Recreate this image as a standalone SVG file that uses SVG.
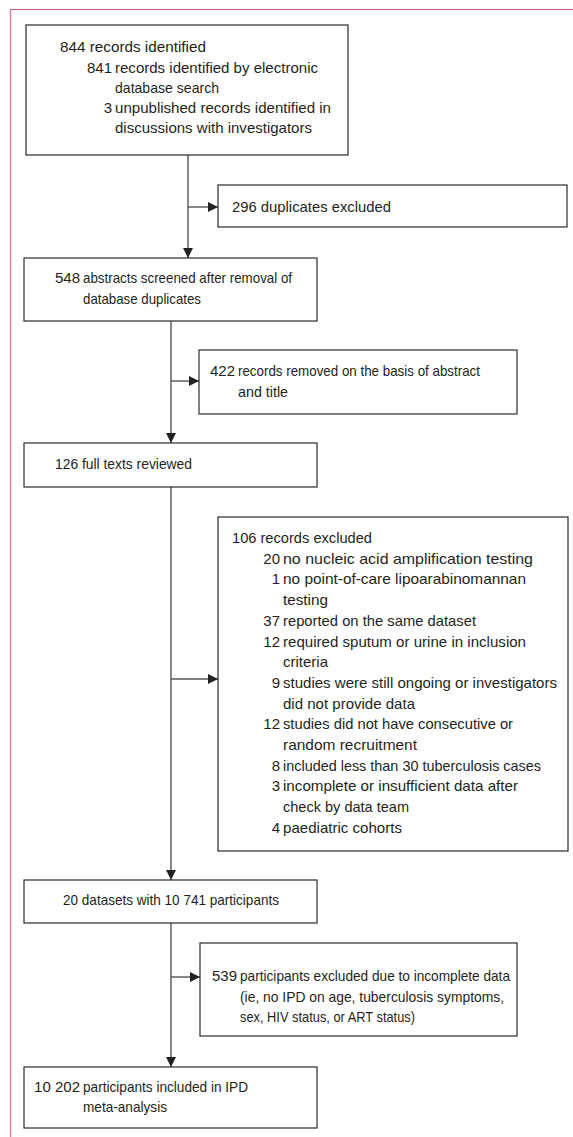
<svg xmlns="http://www.w3.org/2000/svg" width="573" height="1137" viewBox="0 0 573 1137">
<defs>
<style>
.box{fill:#fff;stroke:#2b2b2b;stroke-width:1.2}
.ln{fill:none;stroke:#555;stroke-width:1.4}
text{font-family:"Liberation Sans",Arial,sans-serif;font-size:15px;fill:#231f20}
.r{text-anchor:end}
</style>
<marker id="ah" viewBox="0 0 10 10" refX="10" refY="5" markerWidth="10" markerHeight="10" markerUnits="userSpaceOnUse" orient="auto">
<path d="M0,0 L10,5 L0,10 Z" fill="#222"/>
</marker>
</defs>
<rect width="573" height="1137" fill="#fff"/>
<g id="frame">
<line x1="10" y1="9.5" x2="573" y2="9.5" stroke="#c8546f" stroke-width="1.2"/>
<line x1="10.5" y1="9" x2="10.5" y2="1137" stroke="#e07a9c" stroke-width="1.4"/>
</g>
<g id="connectors">
<line class="ln" x1="188" y1="155" x2="188" y2="258" marker-end="url(#ah)"/>
<line class="ln" x1="188" y1="207" x2="218" y2="207" marker-end="url(#ah)"/>
<line class="ln" x1="171" y1="321" x2="171" y2="443" marker-end="url(#ah)"/>
<line class="ln" x1="171" y1="381" x2="199" y2="381" marker-end="url(#ah)"/>
<line class="ln" x1="171" y1="487" x2="171" y2="880" marker-end="url(#ah)"/>
<line class="ln" x1="171" y1="679" x2="218" y2="679" marker-end="url(#ah)"/>
<line class="ln" x1="171" y1="923" x2="171" y2="1067" marker-end="url(#ah)"/>
<line class="ln" x1="171" y1="977" x2="200" y2="977" marker-end="url(#ah)"/>
</g>
<g id="n1">
<rect class="box" x="26" y="25" width="322" height="130"/>
<text x="60" y="52" textLength="146" lengthAdjust="spacingAndGlyphs">844 records identified</text>
<text class="r" x="112" y="73">841</text><text x="115" y="73" textLength="203" lengthAdjust="spacingAndGlyphs">records identified by electronic</text>
<text x="115" y="93" textLength="104" lengthAdjust="spacingAndGlyphs">database search</text>
<text class="r" x="112" y="113">3</text><text x="115" y="113" textLength="216" lengthAdjust="spacingAndGlyphs">unpublished records identified in</text>
<text x="115" y="133" textLength="197" lengthAdjust="spacingAndGlyphs">discussions with investigators</text>
</g>
<g id="n2">
<rect class="box" x="218" y="185" width="349" height="42"/>
<text x="232" y="212" textLength="159" lengthAdjust="spacingAndGlyphs">296 duplicates excluded</text>
</g>
<g id="n3">
<rect class="box" x="24" y="258" width="293" height="63"/>
<text class="r" x="80" y="283">548</text><text x="83" y="283" textLength="209" lengthAdjust="spacingAndGlyphs">abstracts screened after removal of</text>
<text x="83" y="304" textLength="118" lengthAdjust="spacingAndGlyphs">database duplicates</text>
</g>
<g id="n4">
<rect class="box" x="199" y="350" width="318" height="64"/>
<text class="r" x="235" y="376">422</text><text x="238" y="376" textLength="242" lengthAdjust="spacingAndGlyphs">records removed on the basis of abstract</text>
<text x="238" y="397" textLength="50" lengthAdjust="spacingAndGlyphs">and title</text>
</g>
<g id="n5">
<rect class="box" x="24" y="443" width="293" height="44"/>
<text x="55" y="469" textLength="137" lengthAdjust="spacingAndGlyphs">126 full texts reviewed</text>
</g>
<g id="n6">
<rect class="box" x="218" y="517" width="350" height="334"/>
<text x="232" y="543" textLength="140" lengthAdjust="spacingAndGlyphs">106 records excluded</text>
<text class="r" x="280" y="563.7">20</text><text x="283" y="563.7" textLength="250" lengthAdjust="spacingAndGlyphs">no nucleic acid amplification testing</text>
<text class="r" x="280" y="584.4">1</text><text x="283" y="584.4" textLength="243" lengthAdjust="spacingAndGlyphs">no point-of-care lipoarabinomannan</text>
<text x="283" y="605.1" textLength="45" lengthAdjust="spacingAndGlyphs">testing</text>
<text class="r" x="280" y="625.8">37</text><text x="283" y="625.8" textLength="193" lengthAdjust="spacingAndGlyphs">reported on the same dataset</text>
<text class="r" x="280" y="646.5">12</text><text x="283" y="646.5" textLength="243" lengthAdjust="spacingAndGlyphs">required sputum or urine in inclusion</text>
<text x="283" y="667.2" textLength="45" lengthAdjust="spacingAndGlyphs">criteria</text>
<text class="r" x="280" y="687.9">9</text><text x="283" y="687.9" textLength="274" lengthAdjust="spacingAndGlyphs">studies were still ongoing or investigators</text>
<text x="283" y="708.6" textLength="132" lengthAdjust="spacingAndGlyphs">did not provide data</text>
<text class="r" x="280" y="729.3">12</text><text x="283" y="729.3" textLength="230" lengthAdjust="spacingAndGlyphs">studies did not have consecutive or</text>
<text x="283" y="750" textLength="134" lengthAdjust="spacingAndGlyphs">random recruitment</text>
<text class="r" x="280" y="770.7">8</text><text x="283" y="770.7" textLength="258" lengthAdjust="spacingAndGlyphs">included less than 30 tuberculosis cases</text>
<text class="r" x="280" y="791.4">3</text><text x="283" y="791.4" textLength="235" lengthAdjust="spacingAndGlyphs">incomplete or insufficient data after</text>
<text x="283" y="812.1" textLength="126" lengthAdjust="spacingAndGlyphs">check by data team</text>
<text class="r" x="280" y="832.8">4</text><text x="283" y="832.8" textLength="119" lengthAdjust="spacingAndGlyphs">paediatric cohorts</text>
</g>
<g id="n7">
<rect class="box" x="24" y="880" width="293" height="43"/>
<text x="63" y="905" textLength="216" lengthAdjust="spacingAndGlyphs">20 datasets with 10 741 participants</text>
</g>
<g id="n8">
<rect class="box" x="200" y="943" width="317" height="93"/>
<text class="r" x="237" y="981">539</text><text x="240" y="981" textLength="270" lengthAdjust="spacingAndGlyphs">participants excluded due to incomplete data</text>
<text x="240" y="1002" textLength="264" lengthAdjust="spacingAndGlyphs">(ie, no IPD on age, tuberculosis symptoms,</text>
<text x="240" y="1022" textLength="175" lengthAdjust="spacingAndGlyphs">sex, HIV status, or ART status)</text>
</g>
<g id="n9">
<rect class="box" x="24" y="1067" width="293" height="61"/>
<text class="r" x="80" y="1092">10 202</text><text x="83" y="1092" textLength="165" lengthAdjust="spacingAndGlyphs">participants included in IPD</text>
<text x="83" y="1112" textLength="84" lengthAdjust="spacingAndGlyphs">meta-analysis</text>
</g>
</svg>
